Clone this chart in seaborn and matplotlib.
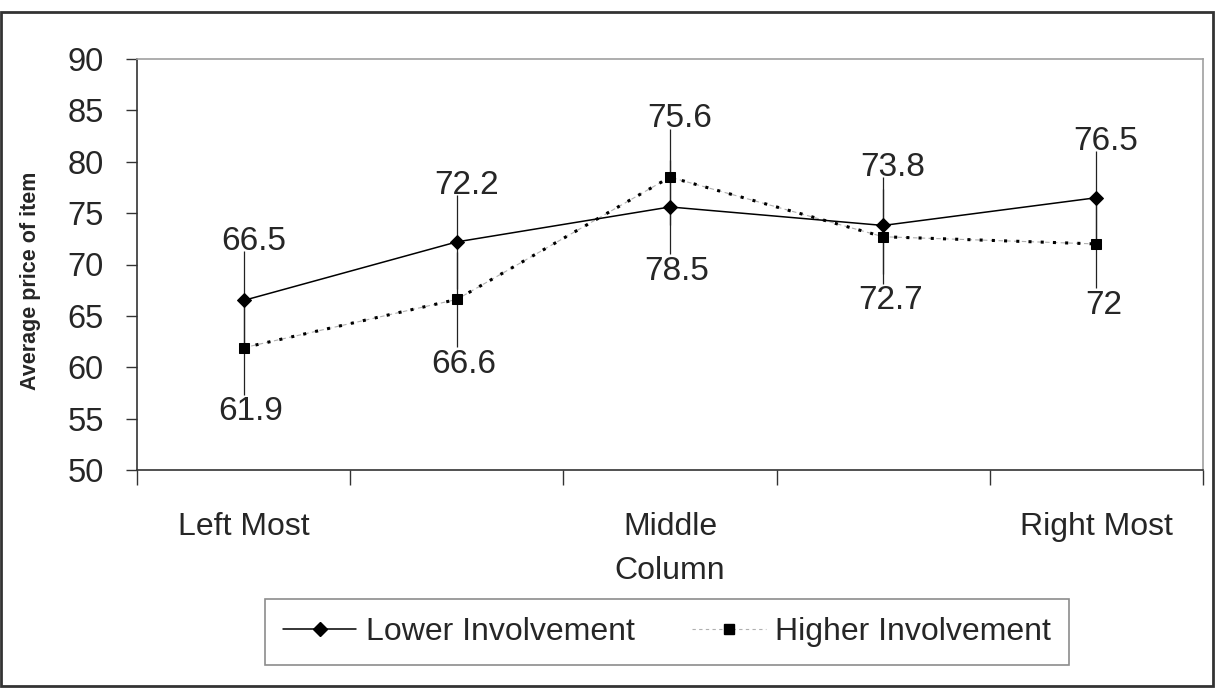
import matplotlib
matplotlib.use('Agg')
import matplotlib.pyplot as plt
import matplotlib.patches as mpatches
import numpy as np
import pandas as pd
import seaborn as sns

# Values
categories = ['Left Most', '', 'Middle', '', 'Right Most']
lower_vals = [66.5, 72.2, 75.6, 73.8, 76.5]
higher_vals = [61.9, 66.6, 78.5, 72.7, 72.0]
lower_err = [4.8, 4.55, 4.6, 4.7, 4.5]
higher_err = [4.6, 4.65, 4.7, 4.6, 4.3]
y_ticks = [50, 55, 60, 65, 70, 75, 80, 85, 90]

sns.set_theme(style='white')
plt.rcParams['font.family'] = ['Liberation Sans', 'DejaVu Sans']

pos = np.arange(len(categories))
df = pd.DataFrame({
    'pos': np.concatenate([pos, pos]),
    'price': lower_vals + higher_vals,
    'group': ['Lower Involvement'] * len(pos) + ['Higher Involvement'] * len(pos),
})

fig = plt.figure(figsize=(12.15, 6.88), dpi=100)
ax = fig.add_axes([137 / 1215, 1 - 470 / 688, (1203 - 137) / 1215, (470 - 59) / 688])

# faint gray dashes under the dotted line (Excel style)
ax.plot(pos, higher_vals, color='#b0b0b0', lw=0.8, dashes=(4, 3), zorder=2)

sns.lineplot(data=df, x='pos', y='price', hue='group', style='group',
             palette={'Lower Involvement': 'black', 'Higher Involvement': 'black'},
             markers={'Lower Involvement': 'D', 'Higher Involvement': 's'},
             dashes={'Lower Involvement': '', 'Higher Involvement': (1, 3)},
             markersize=7.5, linewidth=1.1, markeredgecolor='black',
             legend=False, ax=ax, zorder=3)
# the higher series' dots are a bit heavier
ax.lines[-1].set_linewidth(2.2)
ax.lines[-1].set_markersize(7.5)

ax.errorbar(pos, lower_vals, yerr=lower_err, fmt='none', ecolor='#222222',
            elinewidth=0.9, capsize=0, zorder=2)
ax.errorbar(pos, higher_vals, yerr=higher_err, fmt='none', ecolor='#222222',
            elinewidth=0.9, capsize=0, zorder=2)

# data labels: lower above the bars, higher below
for i in pos:
    top = max(lower_vals[i] + lower_err[i], higher_vals[i] + higher_err[i])
    bot = min(lower_vals[i] - lower_err[i], higher_vals[i] - higher_err[i])
    ax.annotate(f'{lower_vals[i]:g}', (i, top), xytext=(7, 1), textcoords='offset points',
                ha='center', va='baseline', fontsize=24)
    ax.annotate(f'{higher_vals[i]:g}', (i, bot), xytext=(5, -1), textcoords='offset points',
                ha='center', va='top', fontsize=24)

ax.set_xlim(-0.5, len(categories) - 0.5)
ax.set_ylim(50, 90)
ax.set_yticks(y_ticks)
ax.set_yticklabels([str(v) for v in y_ticks], fontsize=23.5)
ax.set_xticks(np.arange(len(categories) + 1) - 0.5)
ax.set_xticklabels([])
ax.set_xticks(pos, minor=True)
ax.set_xticklabels(categories, minor=True, fontsize=23)
ax.tick_params(axis='x', which='major', direction='out', length=11, width=1, color='#333333', bottom=True)
ax.tick_params(axis='x', which='minor', length=0, pad=30)
ax.tick_params(axis='y', direction='out', length=8, width=1, color='#333333', left=True, pad=16)

ax.set_xlabel('Column', fontsize=23, labelpad=10)
ax.set_ylabel('Average price of item', fontsize=15.5, fontweight='bold')
ax.yaxis.set_label_coords(-0.090, 0.46)

for side in ['left', 'bottom']:
    ax.spines[side].set_color('#333333')
    ax.spines[side].set_linewidth(1.2)
for side in ['top', 'right']:
    ax.spines[side].set_color('#a0a0a0')
    ax.spines[side].set_linewidth(1.2)

handles = [
    plt.Line2D([], [], color='black', lw=1.1, marker='D', markersize=7),
    plt.Line2D([], [], color='#b0b0b0', lw=0.8, dashes=(3, 3), marker='s',
               markersize=7, markerfacecolor='black', markeredgecolor='black'),
]
leg = fig.legend(handles, ['Lower Involvement', 'Higher Involvement'], ncol=2,
                 loc='center', bbox_to_anchor=(667 / 1215, 1 - 632 / 688),
                 fontsize=23, frameon=True, fancybox=False, handlelength=2.3,
                 handletextpad=0.3, columnspacing=1.8, borderpad=0.55)
leg.get_frame().set_edgecolor('#707070')
leg.get_frame().set_linewidth(1.2)

fig.patches.append(mpatches.Rectangle((1 / 1215, 2 / 688), 1212 / 1215, 674 / 688,
                                      transform=fig.transFigure, fill=False,
                                      edgecolor='#333333', linewidth=2))

fig.savefig('out.png', dpi=100)
